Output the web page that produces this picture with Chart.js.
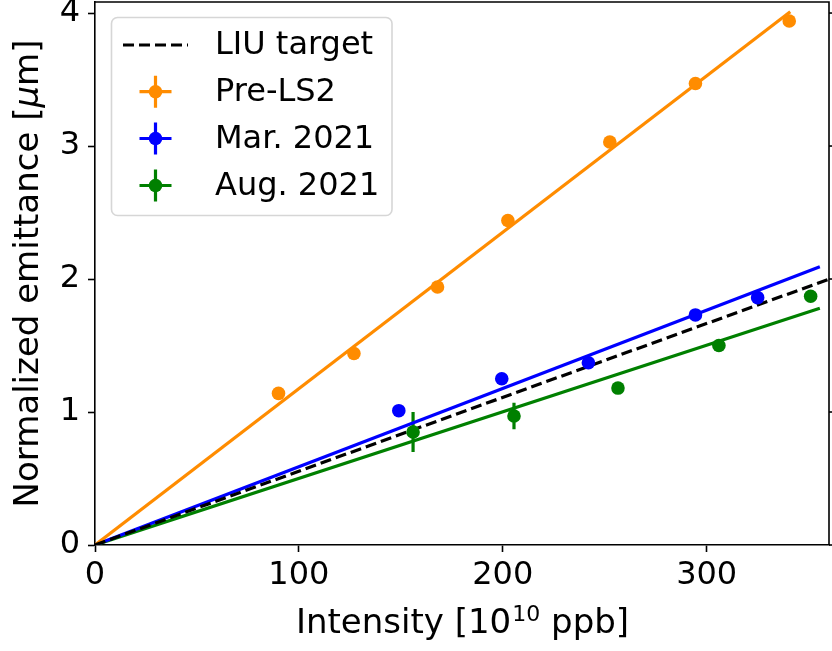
<!DOCTYPE html>
<html>
<head>
<meta charset="utf-8">
<script src="https://cdn.jsdelivr.net/npm/chart.js@4/dist/chart.umd.min.js"></script>
<style>
  html, body { margin: 0; padding: 0; background: #fff; }
  #wrap { width: 832px; height: 651px; }
</style>
</head>
<body>
<div id="wrap"><canvas id="chart" width="832" height="651"></canvas></div>
<script>
// Beam intensity [1e10 ppb] and normalized emittance [um] per campaign
const preLs2Intensity = [90, 127, 168, 202.5, 252.5, 294.5, 340.5];
const preLs2Emittance = [1.14, 1.44, 1.94, 2.44, 3.03, 3.47, 3.94];
const preLs2IntensityErr = [2, 2, 2, 2, 2, 2, 2];
const preLs2EmittanceErr = [0.03, 0.03, 0.03, 0.03, 0.03, 0.03, 0.03];

const mar2021Intensity = [149, 199.5, 242, 294.5, 325];
const mar2021Emittance = [1.01, 1.25, 1.37, 1.73, 1.86];
const mar2021IntensityErr = [2, 2, 2, 2, 2];
const mar2021EmittanceErr = [0.03, 0.03, 0.03, 0.03, 0.03];

const aug2021Intensity = [156, 205.5, 256.5, 306, 351];
const aug2021Emittance = [0.85, 0.97, 1.18, 1.50, 1.87];
const aug2021IntensityErr = [2, 2, 2, 2, 2];
const aug2021EmittanceErr = [0.15, 0.10, 0.03, 0.03, 0.03];

// Linear fits through the origin (end points)
const preLs2FitX = [0, 341];
const preLs2FitY = [0, 4.01];
const mar2021FitX = [0, 355.5];
const mar2021FitY = [0, 2.093];
const aug2021FitX = [0, 355.5];
const aug2021FitY = [0, 1.78];

// LIU target line
const liuTargetX = [0, 370];
const liuTargetY = [0, 2.054];

// Axis ranges and ticks
const xTickValues = [0, 100, 200, 300];
const yTickValues = [0, 1, 2, 3, 4];
const xRange = [0, 360];
const yRange = [0, 4.083];

const seriesNames = ['LIU target', 'Pre-LS2', 'Mar. 2021', 'Aug. 2021'];
// Axis titles, split where the superscript / italic symbol goes
const xTitleParts = ['Intensity [10', '10', ' ppb]'];
const yTitleParts = ['Normalized emittance [', '\u03BC', 'm]'];

const COLORS = { preLs2: '#ff8c00', mar2021: '#0000ff', aug2021: '#008000', liu: '#000000' };
const FONT = '"DejaVu Sans", "Liberation Sans", sans-serif';

const toPoints = (xs, ys) => xs.map((x, i) => ({ x: x, y: ys[i] }));

function scatterSet(label, xs, ys, xe, ye, color) {
  return {
    type: 'scatter', label: label, data: toPoints(xs, ys),
    errX: xe, errY: ye,
    backgroundColor: color, borderColor: color, borderWidth: 0,
    pointRadius: 6.8, pointHoverRadius: 6.8, order: 0
  };
}
function lineSet(label, xs, ys, color, dash, order) {
  return {
    type: 'line', label: label, data: toPoints(xs, ys),
    borderColor: color, backgroundColor: color, borderWidth: 3.2,
    borderDash: dash, pointRadius: 0, fill: false, tension: 0,
    order: order, clip: 0
  };
}

const datasets = [
  lineSet(seriesNames[0], liuTargetX, liuTargetY, COLORS.liu, [11, 5], 1),
  lineSet(seriesNames[1] + ' fit', preLs2FitX, preLs2FitY, COLORS.preLs2, [], 2),
  lineSet(seriesNames[2] + ' fit', mar2021FitX, mar2021FitY, COLORS.mar2021, [], 2),
  lineSet(seriesNames[3] + ' fit', aug2021FitX, aug2021FitY, COLORS.aug2021, [], 2),
  scatterSet(seriesNames[1], preLs2Intensity, preLs2Emittance, preLs2IntensityErr, preLs2EmittanceErr, COLORS.preLs2),
  scatterSet(seriesNames[2], mar2021Intensity, mar2021Emittance, mar2021IntensityErr, mar2021EmittanceErr, COLORS.mar2021),
  scatterSet(seriesNames[3], aug2021Intensity, aug2021Emittance, aug2021IntensityErr, aug2021EmittanceErr, COLORS.aug2021)
];

// Error bars (x and y) for the measured points, drawn under the markers
const errorBars = {
  id: 'errorBars',
  beforeDatasetsDraw(chart) {
    const { ctx, chartArea, scales: { x, y } } = chart;
    ctx.save();
    ctx.beginPath();
    ctx.rect(chartArea.left, chartArea.top, chartArea.right - chartArea.left, chartArea.bottom - chartArea.top);
    ctx.clip();
    ctx.lineWidth = 3.2;
    ctx.lineCap = 'butt';
    chart.data.datasets.forEach(ds => {
      if (!ds.errY) return;
      ctx.strokeStyle = ds.borderColor;
      ds.data.forEach((p, i) => {
        const px = x.getPixelForValue(p.x), py = y.getPixelForValue(p.y);
        ctx.beginPath();
        ctx.moveTo(px, y.getPixelForValue(p.y - ds.errY[i]));
        ctx.lineTo(px, y.getPixelForValue(p.y + ds.errY[i]));
        ctx.moveTo(x.getPixelForValue(p.x - ds.errX[i]), py);
        ctx.lineTo(x.getPixelForValue(p.x + ds.errX[i]), py);
        ctx.stroke();
      });
    });
    ctx.restore();
  }
};

// Closed frame: top and right spines plus right-hand tick marks
const frame = {
  id: 'frame',
  afterDraw(chart) {
    const { ctx, chartArea: a, scales: { y } } = chart;
    ctx.save();
    ctx.strokeStyle = '#000';
    ctx.lineWidth = 1.6;
    ctx.beginPath();
    ctx.moveTo(a.left, a.top);
    ctx.lineTo(a.right, a.top);
    ctx.lineTo(a.right, a.bottom);
    ctx.stroke();
    yTickValues.forEach(v => {
      const py = y.getPixelForValue(v);
      ctx.beginPath();
      ctx.moveTo(a.right, py);
      ctx.lineTo(a.right + 7, py);
      ctx.stroke();
    });
    ctx.restore();
  }
};

// Axis titles with a superscript exponent and an italic mu
const axisTitles = {
  id: 'axisTitles',
  afterDraw(chart) {
    const { ctx, chartArea: a } = chart;
    const main = '34px ' + FONT, sup = '22px ' + FONT, ital = 'oblique 34px ' + FONT;
    ctx.save();
    ctx.fillStyle = '#000';
    ctx.textBaseline = 'alphabetic';
    ctx.textAlign = 'left';

    // x title
    ctx.font = main; const w0 = ctx.measureText(xTitleParts[0]).width;
    ctx.font = sup; const w1 = ctx.measureText(xTitleParts[1]).width;
    ctx.font = main; const w2 = ctx.measureText(xTitleParts[2]).width;
    let xx = (a.left + a.right) / 2 - (w0 + w1 + w2) / 2;
    const base = 633;
    ctx.font = main; ctx.fillText(xTitleParts[0], xx, base); xx += w0;
    ctx.font = sup; ctx.fillText(xTitleParts[1], xx + 1, base - 12); xx += w1 + 1;
    ctx.font = main; ctx.fillText(xTitleParts[2], xx, base);

    // y title, rotated
    ctx.translate(38, (a.top + a.bottom) / 2);
    ctx.rotate(-Math.PI / 2);
    ctx.font = main; const v0 = ctx.measureText(yTitleParts[0]).width;
    ctx.font = ital; const v1 = ctx.measureText(yTitleParts[1]).width;
    ctx.font = main; const v2 = ctx.measureText(yTitleParts[2]).width;
    let yy = -(v0 + v1 + v2) / 2;
    ctx.font = main; ctx.fillText(yTitleParts[0], yy, 0); yy += v0;
    ctx.font = ital; ctx.fillText(yTitleParts[1], yy, 0); yy += v1;
    ctx.font = main; ctx.fillText(yTitleParts[2], yy, 0);
    ctx.restore();
  }
};

// Legend box in the upper-left corner of the plot
const legendBox = {
  id: 'legendBox',
  afterDraw(chart) {
    const { ctx } = chart;
    const bx = 111.5, by = 17.5, bw = 280.5, bh = 198, r = 6;
    ctx.save();
    ctx.beginPath();
    ctx.moveTo(bx + r, by);
    ctx.arcTo(bx + bw, by, bx + bw, by + bh, r);
    ctx.arcTo(bx + bw, by + bh, bx, by + bh, r);
    ctx.arcTo(bx, by + bh, bx, by, r);
    ctx.arcTo(bx, by, bx + bw, by, r);
    ctx.closePath();
    ctx.fillStyle = 'rgba(255,255,255,0.8)';
    ctx.fill();
    ctx.strokeStyle = 'rgba(204,204,204,0.8)';
    ctx.lineWidth = 1.6;
    ctx.stroke();

    const rowY = [45, 91.7, 138.5, 185.5];
    const hx0 = 123, hx1 = 188, hc = (hx0 + hx1) / 2;
    const entries = [
      { text: seriesNames[0], color: COLORS.liu, kind: 'line' },
      { text: seriesNames[1], color: COLORS.preLs2, kind: 'err' },
      { text: seriesNames[2], color: COLORS.mar2021, kind: 'err' },
      { text: seriesNames[3], color: COLORS.aug2021, kind: 'err' }
    ];
    entries.forEach((e, i) => {
      const yy = rowY[i];
      ctx.strokeStyle = e.color;
      ctx.fillStyle = e.color;
      ctx.lineWidth = 3.2;
      if (e.kind === 'line') {
        ctx.setLineDash([11, 5]);
        ctx.beginPath();
        ctx.moveTo(hx0, yy);
        ctx.lineTo(hx1, yy);
        ctx.stroke();
        ctx.setLineDash([]);
      } else {
        ctx.beginPath();
        ctx.moveTo(hc - 16, yy); ctx.lineTo(hc + 16, yy);
        ctx.moveTo(hc, yy - 16); ctx.lineTo(hc, yy + 16);
        ctx.stroke();
        ctx.beginPath();
        ctx.arc(hc, yy, 6.8, 0, Math.PI * 2);
        ctx.fill();
      }
      ctx.fillStyle = '#000';
      ctx.font = '32px ' + FONT;
      ctx.textAlign = 'left';
      ctx.textBaseline = 'middle';
      ctx.fillText(e.text, 215, yy + 1);
    });
    ctx.restore();
  }
};

const tickFont = { family: FONT, size: 32 };

new Chart(document.getElementById('chart'), {
  data: { datasets: datasets },
  options: {
    responsive: false,
    animation: false,
    devicePixelRatio: 1,
    layout: { autoPadding: false, padding: { top: 2, right: 3, left: 0, bottom: 0 } },
    plugins: { legend: { display: false }, tooltip: { enabled: false } },
    scales: {
      x: {
        type: 'linear', position: 'bottom', min: xRange[0], max: xRange[1],
        afterBuildTicks: s => { s.ticks = xTickValues.map(v => ({ value: v })); },
        ticks: { color: '#000', font: tickFont, padding: 4, maxRotation: 0, autoSkip: false },
        grid: { drawOnChartArea: false, drawTicks: true, tickLength: 7, tickWidth: 1.6, tickColor: '#000' },
        border: { display: true, color: '#000', width: 1.6 },
        title: { display: false },
        afterFit: s => { s.height = 106; s.paddingLeft = 0; s.paddingRight = 0; s.paddingTop = 0; s.paddingBottom = 0; }
      },
      y: {
        type: 'linear', position: 'left', min: yRange[0], max: yRange[1],
        afterBuildTicks: s => { s.ticks = yTickValues.map(v => ({ value: v })); },
        ticks: { color: '#000', font: tickFont, padding: 8, autoSkip: false },
        grid: { drawOnChartArea: false, drawTicks: true, tickLength: 7, tickWidth: 1.6, tickColor: '#000' },
        border: { display: true, color: '#000', width: 1.6 },
        title: { display: false },
        afterFit: s => { s.width = 95; s.paddingLeft = 0; s.paddingRight = 0; s.paddingTop = 0; s.paddingBottom = 0; }
      }
    }
  },
  plugins: [errorBars, frame, axisTitles, legendBox]
});
</script>
</body>
</html>
